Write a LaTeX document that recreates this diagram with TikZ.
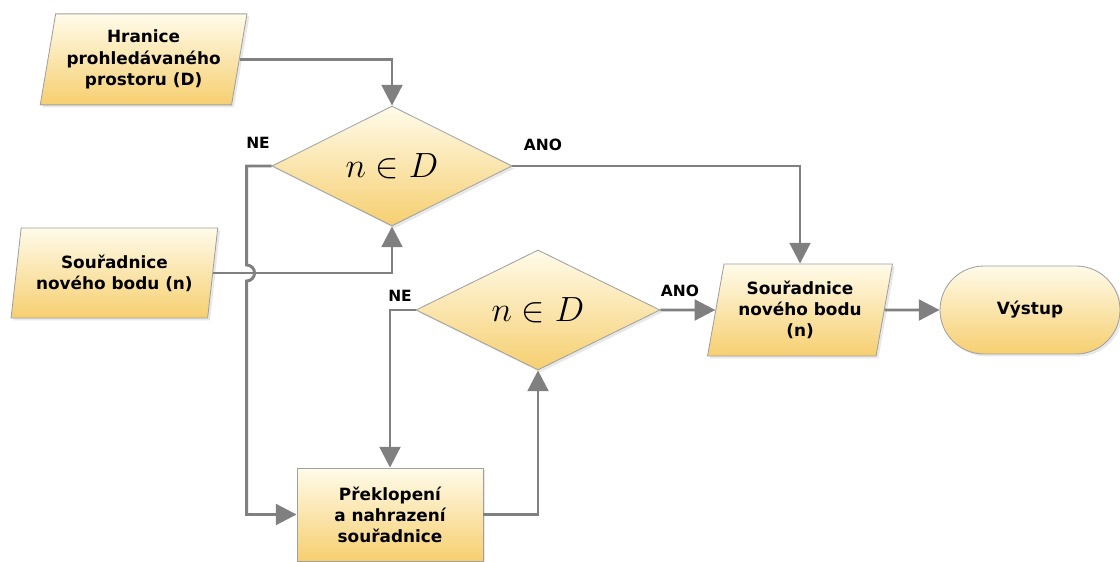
\documentclass[tikz,border=0pt]{standalone}
\usepackage{fontspec}
\newfontfamily\flowfont{DejaVu Sans}
\usetikzlibrary{shapes.geometric, shapes.misc, arrows.meta, calc, shadows}

\definecolor{boxtop}{RGB}{255,251,234}
\definecolor{boxbottom}{RGB}{246,207,112}
\definecolor{boxline}{RGB}{160,160,160}
\definecolor{flowline}{RGB}{128,128,128}

\begin{document}
\begin{tikzpicture}[
        box_base/.style={draw=boxline, line width=0.6pt, top color=boxtop, bottom color=boxbottom,
            font=\flowfont\bfseries\fontsize{12}{15}\selectfont, align=center, inner sep=0pt,
            drop shadow={opacity=0.18, shadow xshift=0.06cm, shadow yshift=-0.06cm}},
        data_box/.style={box_base, trapezium, trapezium left angle=77, trapezium right angle=103,
            trapezium stretches=true},
        decision/.style={box_base, diamond, aspect=2, font=\fontsize{24}{28}\selectfont},
        process/.style={box_base, rectangle},
        terminal/.style={box_base, rounded rectangle},
        branch/.style={font=\flowfont\bfseries\fontsize{11}{13}\selectfont, inner sep=0pt},
        arrow/.style={-{Triangle[length=0.52cm, width=0.52cm]}, line width=2.1pt, draw=flowline}
    ]
    \useasboundingbox (0,0) rectangle (28,14.025);

    % Inputs
    \node[data_box, minimum width=5.175cm, minimum height=2.275cm] (bounds) at (3.59, 12.54) {Hranice\\prohledávaného\\prostoru (D)};
    \node[data_box, minimum width=5.175cm, minimum height=2.25cm] (point) at (2.86, 7.2) {Souřadnice\\nového bodu (n)};

    % Decisions
    \node[decision, minimum width=6.0cm, minimum height=3.0cm] (test1) at (9.8, 9.875) {$n \in D$};
    \node[decision, minimum width=6.1cm, minimum height=3.0cm] (test2) at (13.45, 6.275) {$n \in D$};

    % Flip step, result and output
    \node[process, minimum width=4.65cm, minimum height=2.325cm] (flip) at (9.75, 1.1625) {Překlopení\\a nahrazení\\souřadnice};
    \node[data_box, minimum width=4.625cm, minimum height=2.3cm] (result) at (20.0, 6.275) {Souřadnice\\nového bodu\\(n)};
    \node[terminal, minimum width=4.5cm, minimum height=2.2cm] (output) at (25.75, 6.275) {Výstup};

    % Branch labels
    \node[branch] (no1) at (6.45, 10.45) {NE};
    \node[branch] (yes1) at (13.575, 10.4) {ANO};
    \node[branch] (no2) at (10.0, 6.625) {NE};
    \node[branch] (yes2) at (17.0, 6.75) {ANO};

    % Connections
    \coordinate (jump) at ($(test1.west)+(-0.625,0)$);
    \draw[arrow] (bounds.east) -| (test1.north);
    \draw[arrow] (point.east) -| (test1.south);
    \draw[arrow] (test1.west) -- (jump) -- ($(jump |- point.east)+(0,0.2)$)
        arc[start angle=90, end angle=-90, radius=0.2] |- (flip.west);
    \draw[arrow] (test1.east) -| (result.north);
    \draw[arrow] (test2.west) -| (flip.north);
    \draw[arrow] (flip.east) -| (test2.south);
    \draw[arrow] (test2.east) -- (result.west);
    \draw[arrow] (result.east) -- (output.west);

\end{tikzpicture}
\end{document}
